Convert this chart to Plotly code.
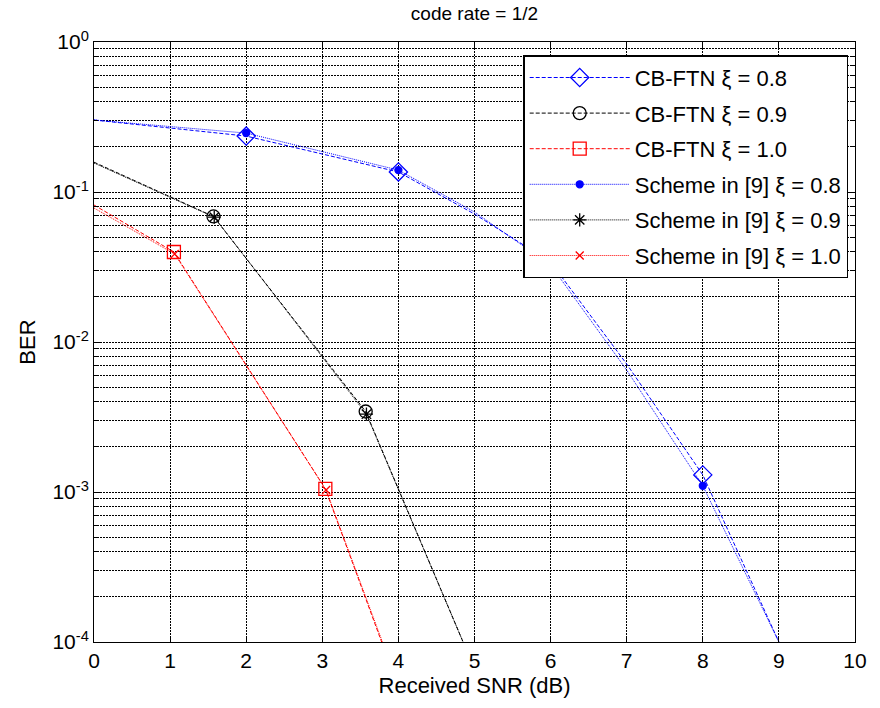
import plotly.graph_objects as go

# ---- data ----
snr_cb08 = [0, 2, 4, 5, 6, 7, 8, 9]
ber_cb08 = [0.302, 0.236, 0.136, 0.0713, 0.0341, 0.00713, 0.0013, 1e-4]
snr_cb09 = [0, 1.57, 3.57, 4.85]
ber_cb09 = [0.158, 0.0687, 0.00344, 1e-4]
snr_cb10 = [0, 1.05, 3.04, 3.78]
ber_cb10 = [0.0819, 0.0398, 0.00105, 1e-4]

snr_s08 = [0, 2, 4, 5, 6, 7, 8, 9]
ber_s08 = [0.302, 0.247, 0.140, 0.0736, 0.0326, 0.0065, 0.0011, 1e-4]
snr_s09 = [0, 1.58, 3.58, 4.85]
ber_s09 = [0.156, 0.068, 0.0033, 1e-4]
snr_s10 = [0, 1.06, 3.05, 3.79]
ber_s10 = [0.0782, 0.0386, 0.00103, 1e-4]

# indices of points that carry a marker
mark_08 = [1, 2, 4, 6]
mark_09 = [1, 2]
mark_10 = [1, 2]

names = ["CB-FTN ξ = 0.8", "CB-FTN ξ = 0.9", "CB-FTN ξ = 1.0",
         "Scheme in [9] ξ = 0.8", "Scheme in [9] ξ = 0.9", "Scheme in [9] ξ = 1.0"]

x_ticks = list(range(0, 11))
y_ticks = [1e-4, 1e-3, 1e-2, 1e-1, 1]
y_ticktext = ["10<sup>-4</sup>", "10<sup>-3</sup>", "10<sup>-2</sup>", "10<sup>-1</sup>", "10<sup>0</sup>"]

DASH = "4px,2px"
DOT = "1px,1px"

series = [
    (snr_cb08, ber_cb08, mark_08, "blue", DASH, "diamond-open", 14),
    (snr_cb09, ber_cb09, mark_09, "black", DASH, "circle-open", 13),
    (snr_cb10, ber_cb10, mark_10, "red", DASH, "square-open", 13),
    (snr_s08, ber_s08, mark_08, "blue", DOT, "circle", 7),
    (snr_s09, ber_s09, mark_09, "black", DOT, "asterisk-open", 11),
    (snr_s10, ber_s10, mark_10, "red", DOT, "x-thin-open", 8),
]

fig = go.Figure()
for i, (xs, ys, mk, col, dash, sym, ms) in enumerate(series):
    fig.add_trace(go.Scatter(x=xs, y=ys, mode="lines", showlegend=False,
                             line=dict(color=col, width=1, dash=dash)))
    fig.add_trace(go.Scatter(x=[xs[k] for k in mk], y=[ys[k] for k in mk], mode="markers",
                             showlegend=False,
                             marker=dict(symbol=sym, size=ms, color=col,
                                         line=dict(color=col, width=1.3))))
    fig.add_trace(go.Scatter(x=[None], y=[None], mode="lines+markers", name=names[i],
                             legendgroup="g%d" % i,
                             line=dict(color=col, width=1, dash=dash),
                             marker=dict(symbol=sym, size=ms, color=col,
                                         line=dict(color=col, width=1.3))))

minor_vals = [m * 10 ** e for e in range(-4, 0) for m in range(2, 10)]

GRID_DASH = "2px,1px"
axis_common = dict(showline=True, linecolor="black", linewidth=1, mirror="allticks",
                   ticks="inside", ticklen=6, tickcolor="black",
                   showgrid=True, gridcolor="black", gridwidth=1, griddash=GRID_DASH,
                   zeroline=False, tickfont=dict(family="Arial, Liberation Sans", size=21, color="black"))

fig.update_layout(
    width=880, height=708,
    margin=dict(l=94, r=25, t=42, b=66),
    paper_bgcolor="white", plot_bgcolor="white",
    font=dict(family="Arial, Liberation Sans", color="black"),
    title=dict(text="code rate = 1/2", x=0.5, xref="paper", xanchor="center",
               y=0.99, yanchor="top", font=dict(size=19, color="black")),
    xaxis=dict(range=[0, 10], tickvals=x_ticks, ticktext=[str(v) for v in x_ticks],
               title=dict(text="Received SNR (dB)", font=dict(size=22), standoff=6),
               **axis_common),
    yaxis=dict(type="log", range=[-4, 0], tickvals=y_ticks, ticktext=y_ticktext,
               title=dict(text="BER", font=dict(size=22), standoff=10),
               minor=dict(tickvals=minor_vals, ticks="inside", ticklen=4, tickcolor="black",
                          showgrid=True, gridcolor="black", gridwidth=1, griddash=GRID_DASH),
               **axis_common),
    legend=dict(x=0.564, y=0.978, xanchor="left", yanchor="top",
                bgcolor="white", bordercolor="black", borderwidth=1.5,
                font=dict(size=22, color="black"), tracegroupgap=4, itemwidth=100),
)

fig.write_html("out.html")
